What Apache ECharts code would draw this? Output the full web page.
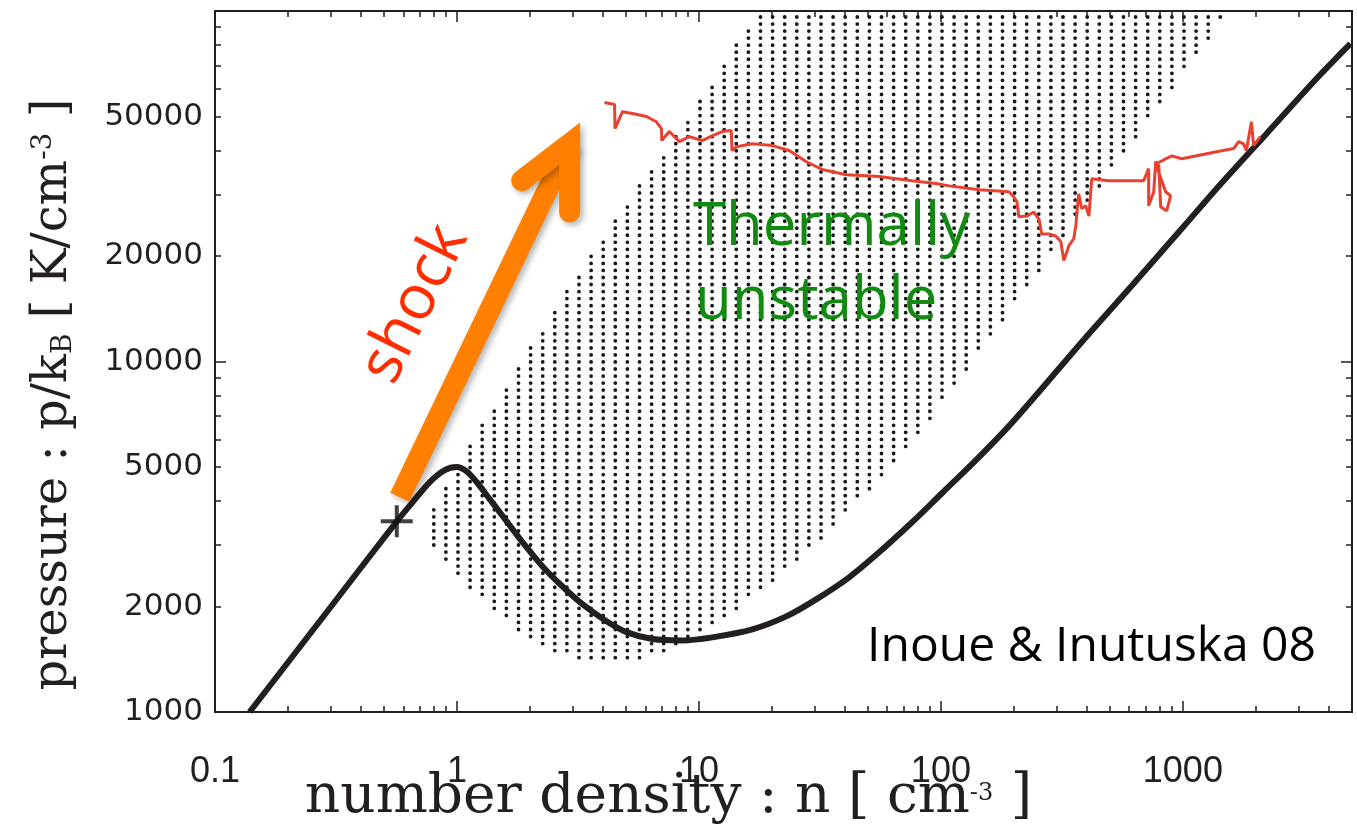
<!DOCTYPE html>
<html>
<head>
<meta charset="utf-8">
<script src="https://cdn.jsdelivr.net/npm/echarts@6/dist/echarts.min.js"></script>
<style>
  html, body { margin: 0; padding: 0; background: #fff; }
  #chart { width: 1357px; height: 825px; }
</style>
</head>
<body>
<div id="chart"></div>
<script>
// thermal equilibrium curve: [n (cm^-3), p/kB (K cm^-3)]
const equilibriumCurve = [
  [0.139, 1000], [0.28, 1870], [0.564, 3500], [0.656, 3970], [0.772, 4530],
  [0.89, 4900], [0.997, 5000], [1.096, 4860], [1.206, 4530], [1.365, 4050],
  [1.604, 3500], [1.867, 3050], [2.258, 2600], [2.73, 2280], [3.3, 2030],
  [4.15, 1815], [5.02, 1690], [6.42, 1615], [8.54, 1600], [11.36, 1633],
  [16.61, 1721], [22.95, 1874], [30.51, 2096], [41.76, 2423], [55.53, 2855],
  [75.99, 3478], [101.0, 4209], [139.6, 5231], [191.0, 6540], [254.0, 8182],
  [382.2, 11370], [614.8, 16440], [988.5, 23910], [1366, 30900], [2218, 44670],
  [3635, 65000], [4928, 80720]
];

// post-shock gas track
const shockedGasTrack = [
  [4.07, 54800], [4.48, 54100], [4.5, 46200], [4.83, 51600], [5.31, 51000],
  [6.07, 50000], [6.67, 48300], [7.0, 46200], [7.02, 42700], [7.55, 45300],
  [8.3, 42400], [9.13, 43800], [10.3, 42700], [11.4, 44100], [12.5, 45300],
  [13.6, 45600], [13.7, 40000], [14.3, 41000], [16.6, 41800], [20.1, 41300],
  [23.6, 40000], [27.7, 37200], [32.3, 35300], [40.6, 34100], [55.5, 33700],
  [76, 32800], [95.4, 32200], [108, 31700], [144, 30900], [191, 30500],
  [200, 29500], [206, 28600], [210, 25900], [227, 26000], [242, 26700],
  [254, 25500], [261, 23100], [279, 23100], [298, 22800], [313, 22000],
  [322, 19400], [338, 21400], [354, 22400], [361, 24400], [371, 30100],
  [382, 27300], [397, 27800], [409, 26000], [420, 33200], [494, 32800],
  [615, 32800], [689, 32800], [722, 35500], [722, 27800], [758, 30500],
  [772, 37200], [795, 36200], [810, 27600], [857, 26900], [890, 29700],
  [849, 30500], [772, 36600], [899, 38600], [989, 37900], [1315, 39400],
  [1620, 40500], [1700, 42400], [1780, 41800], [1830, 40000], [1920, 48300],
  [1960, 41300], [2090, 43800]
];

// outline of the thermally unstable (dotted) region
const unstableRegion = [
  [17.4, 99300], [1531, 99300], [104, 7820], [91.9, 6850], [73.8, 5660],
  [58.8, 4680], [46.4, 4050], [36.8, 3430], [29.0, 2950], [23.3, 2590],
  [18.4, 2250], [14.7, 1980], [10.4, 1710], [7.34, 1490], [5.84, 1400],
  [3.03, 1400], [2.73, 1460], [1.96, 1600], [1.54, 1850], [1.22, 2120],
  [0.96, 2550], [0.764, 3070], [0.764, 3690], [1.10, 5590], [1.73, 9330],
  [3.06, 17100], [5.52, 30900], [9.76, 54100]
];

const initialState = [[0.564, 3500]];
const shockArrowShaft = [[0.58, 4100], [2.92, 41800]];
const shockArrowHead = [[1.85, 32800], [2.92, 41800], [2.92, 26700]];

const xLabelValues = [0.1, 1, 10, 100, 1000];
const xMajorTicks = [0.1, 1, 10, 100, 1000];
const xMinorTicks = [
  0.2, 0.3, 0.4, 0.5, 0.6, 0.7, 0.8, 0.9,
  2, 3, 4, 5, 6, 7, 8, 9,
  20, 30, 40, 50, 60, 70, 80, 90,
  200, 300, 400, 500, 600, 700, 800, 900,
  2000, 3000, 4000
];
const yLabelValues = [1000, 2000, 5000, 10000, 20000, 50000];
const yMajorTicks = [1000, 10000, 100000];
const yMinorTicks = [
  2000, 3000, 4000, 5000, 6000, 7000, 8000, 9000,
  20000, 30000, 40000, 50000, 60000, 70000, 80000, 90000
];

const lg = Math.log10;
const toLog = pts => pts.map(p => [lg(p[0]), lg(p[1])]);
const ink = '#231f20';

function pickLabel(list, v) {
  const hit = list.find(t => Math.abs(lg(t) - v) < 1e-6);
  return hit === undefined ? '' : String(hit);
}

function insidePoly(x, y, poly) {
  let inside = false;
  for (let i = 0, j = poly.length - 1; i < poly.length; j = i++) {
    const xi = poly[i][0], yi = poly[i][1], xj = poly[j][0], yj = poly[j][1];
    if ((yi > y) !== (yj > y) && x < (xj - xi) * (y - yi) / (yj - yi) + xi) inside = !inside;
  }
  return inside;
}

// stipple texture: dot grid (12.1 x 7.04 px) kept inside the region outline
function stipplePath(poly) {
  const xs = poly.map(p => p[0]), ys = poly.map(p => p[1]);
  const x0 = Math.min(...xs), x1 = Math.max(...xs);
  const y0 = Math.min(...ys), y1 = Math.max(...ys);
  const r = 1.9;
  let d = '';
  const i0 = Math.floor((x0 - 760.5) / 12.1), i1 = Math.ceil((x1 - 760.5) / 12.1);
  const j0 = Math.floor((y0 - 17) / 7.04), j1 = Math.ceil((y1 - 17) / 7.04);
  for (let i = i0; i <= i1; i++) {
    for (let j = j0; j <= j1; j++) {
      const x = 760.5 + i * 12.1, y = 17 + j * 7.04;
      if (!insidePoly(x, y, poly)) continue;
      d += 'M' + (x - r).toFixed(2) + ',' + y.toFixed(2) +
        'a' + r + ',' + r + ' 0 1,0 ' + (2 * r) + ',0' +
        'a' + r + ',' + r + ' 0 1,0 ' + (-2 * r) + ',0Z';
    }
  }
  return d;
}

function xAxisDef(position, ticks, len, withLabels) {
  return {
    type: 'value',
    position: position,
    min: lg(0.1),
    max: lg(5000),
    axisLine: { show: true, onZero: false, lineStyle: { color: ink, width: 2 } },
    axisTick: {
      show: true, inside: true, length: len,
      customValues: ticks.map(lg),
      lineStyle: { color: ink, width: 1.5 }
    },
    axisLabel: withLabels ? {
      show: true,
      customValues: xLabelValues.map(lg),
      formatter: v => pickLabel(xLabelValues, v),
      color: ink,
      fontFamily: "'Liberation Sans', sans-serif",
      fontSize: 36,
      margin: 42
    } : { show: false },
    splitLine: { show: false }
  };
}

function yAxisDef(position, ticks, len, withLabels) {
  return {
    type: 'value',
    position: position,
    min: 3,
    max: 5,
    axisLine: { show: true, onZero: false, lineStyle: { color: ink, width: 2 } },
    axisTick: {
      show: true, inside: true, length: len,
      customValues: ticks.map(lg),
      lineStyle: { color: ink, width: 1.5 }
    },
    axisLabel: withLabels ? {
      show: true,
      customValues: yLabelValues.map(lg),
      formatter: v => pickLabel(yLabelValues, v),
      color: ink,
      fontFamily: "'DejaVu Sans', sans-serif",
      fontSize: 31,
      margin: 12
    } : { show: false },
    splitLine: { show: false }
  };
}

const xMain = xAxisDef('bottom', xMajorTicks, 11, true);
xMain.name = '{t|number density : n [ cm}{s|-3}{t| ]}';
xMain.nameLocation = 'middle';
xMain.nameGap = 58;
xMain.nameMoveOverlap = false;
xMain.nameTextStyle = {
  padding: [0, 230, 0, 0],
  rich: {
    t: { fontFamily: "'DejaVu Serif', serif", fontSize: 55, color: ink },
    s: { fontFamily: "'DejaVu Serif', serif", fontSize: 24, color: ink, padding: [0, 0, 8, 0] }
  }
};

const yMain = yAxisDef('left', yMajorTicks, 11, true);
yMain.name = '{t|pressure : p/k}{b|B}{t| [ K/cm}{s|-3}{t| ]}';
yMain.nameLocation = 'middle';
yMain.nameGap = 137;
yMain.nameMoveOverlap = false;
yMain.nameTextStyle = {
  padding: [0, 66, 0, 0],
  rich: {
    t: { fontFamily: "'DejaVu Serif', serif", fontSize: 48, color: ink },
    b: { fontFamily: "'DejaVu Serif', serif", fontSize: 28, color: ink, verticalAlign: 'bottom' },
    s: { fontFamily: "'DejaVu Serif', serif", fontSize: 28, color: ink, verticalAlign: 'top' }
  }
};

const chart = echarts.init(document.getElementById('chart'));

const option = {
  animation: false,
  backgroundColor: '#fff',
  grid: {
    left: 215, top: 11, right: 5, bottom: 113,
    containLabel: false,
    outerBoundsMode: 'none'
  },
  xAxis: [
    xMain,
    xAxisDef('bottom', xMinorTicks, 6, false),
    xAxisDef('top', xMajorTicks, 11, false),
    xAxisDef('top', xMinorTicks, 6, false)
  ],
  yAxis: [
    yMain,
    yAxisDef('left', yMinorTicks, 6, false),
    yAxisDef('right', yMajorTicks, 11, false),
    yAxisDef('right', yMinorTicks, 6, false)
  ],
  series: [
    {
      // dotted thermally unstable region
      type: 'custom',
      silent: true,
      z: 1,
      clip: true,
      data: [toLog(unstableRegion)[0]],
      renderItem: (params, api) => ({
        type: 'path',
        shape: { pathData: stipplePath(toLog(unstableRegion).map(p => api.coord(p))) },
        style: { fill: '#1a1718', stroke: null }
      })
    },
    {
      type: 'line',
      data: toLog(equilibriumCurve),
      smooth: 0.3,
      showSymbol: false,
      silent: true,
      z: 3,
      lineStyle: { color: ink, width: 6 }
    },
    {
      type: 'line',
      data: toLog(shockedGasTrack),
      showSymbol: false,
      silent: true,
      z: 4,
      lineStyle: { color: '#e8412f', width: 3 }
    },
    {
      // shock arrow
      type: 'custom',
      silent: true,
      z: 5,
      clip: false,
      data: [toLog(shockArrowShaft)[0]],
      renderItem: (params, api) => {
        const style = {
          stroke: '#ff8000', lineWidth: 21, fill: null,
          shadowBlur: 6, shadowOffsetX: 3, shadowOffsetY: 3,
          shadowColor: 'rgba(0,0,0,0.3)'
        };
        return {
          type: 'group',
          children: [
            {
              type: 'polyline',
              shape: { points: toLog(shockArrowShaft).map(p => api.coord(p)) },
              style: Object.assign({}, style, { lineCap: 'butt' })
            },
            {
              type: 'polyline',
              shape: { points: toLog(shockArrowHead).map(p => api.coord(p)) },
              style: Object.assign({}, style, { lineCap: 'round', lineJoin: 'miter' })
            }
          ]
        };
      }
    },
    {
      type: 'scatter',
      data: toLog(initialState),
      symbol: 'path://M14,0h4v14h14v4h-14v14h-4v-14h-14v-4h14z',
      symbolSize: 32,
      silent: true,
      z: 6,
      itemStyle: { color: '#111' }
    }
  ],
  graphic: [
    {
      type: 'text', x: 415, y: 304, rotation: 1.107, z: 10,
      style: {
        text: 'shock', fill: '#ff2d00',
        font: "62px 'Open Sans', sans-serif",
        align: 'center', verticalAlign: 'middle'
      }
    },
    {
      type: 'text', x: 693, y: 228, z: 10,
      style: {
        text: 'Thermally', fill: '#108a10',
        font: "60px 'Open Sans', sans-serif",
        align: 'left', verticalAlign: 'middle'
      }
    },
    {
      type: 'text', x: 695, y: 302, z: 10,
      style: {
        text: 'unstable', fill: '#108a10',
        font: "60px 'Open Sans', sans-serif",
        align: 'left', verticalAlign: 'middle'
      }
    },
    {
      type: 'text', x: 1316, y: 647, z: 10,
      style: {
        text: 'Inoue & Inutuska 08', fill: '#000',
        font: "48px 'Open Sans', sans-serif",
        align: 'right', verticalAlign: 'middle'
      }
    }
  ]
};

chart.setOption(option);
window.addEventListener('resize', () => chart.resize());
</script>
</body>
</html>
